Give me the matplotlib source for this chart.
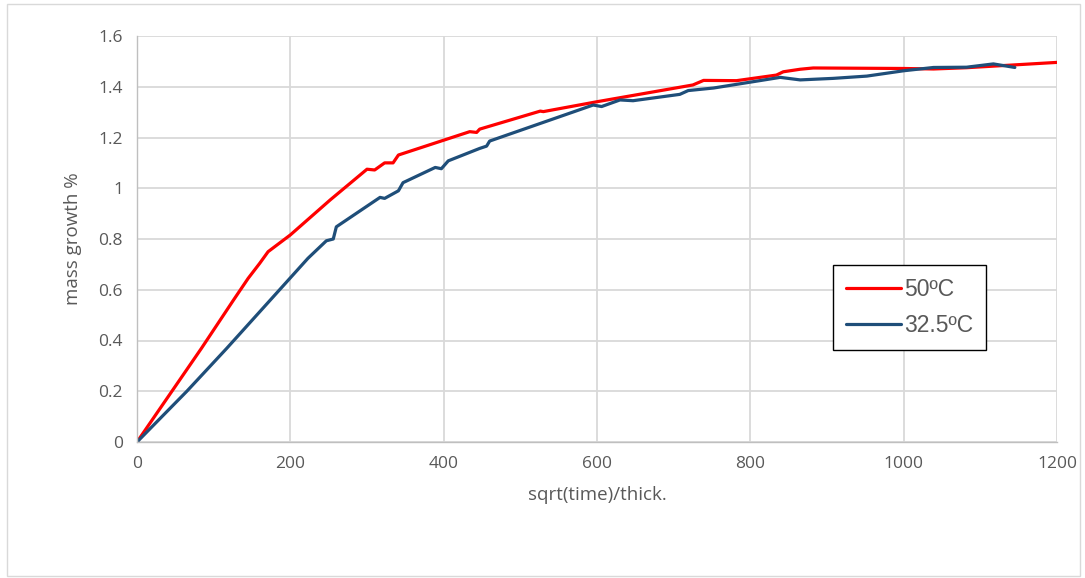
import matplotlib
matplotlib.use("Agg")
import matplotlib.pyplot as plt
from matplotlib.patches import Rectangle

# Data
x_50 = [0, 84, 126, 145, 160, 171, 200, 252, 300, 310, 323, 334, 341, 434, 443, 447,
        526, 530, 600, 725, 739, 782, 834, 843, 865, 882, 1000, 1039, 1082, 1200]
y_50 = [0, 0.369, 0.56, 0.645, 0.704, 0.75, 0.816, 0.954, 1.075, 1.072, 1.10, 1.10,
        1.131, 1.223, 1.22, 1.233, 1.304, 1.302, 1.341, 1.407, 1.425, 1.424, 1.446, 1.459,
        1.469, 1.474, 1.472, 1.47, 1.475, 1.496]

x_325 = [0, 65, 117, 186, 223, 247, 256, 260, 317, 323, 341, 347, 389, 397, 406,
         447, 456, 460, 595, 606, 630, 647, 708, 719, 752, 839, 865, 908, 952, 1000,
         1039, 1082, 1117, 1145]
y_325 = [0, 0.20, 0.369, 0.60, 0.724, 0.793, 0.80, 0.848, 0.964, 0.96, 0.99, 1.022,
         1.082, 1.077, 1.108, 1.157, 1.166, 1.186, 1.328, 1.322, 1.348, 1.345, 1.37, 1.385,
         1.395, 1.437, 1.427, 1.433, 1.442, 1.463, 1.476, 1.477, 1.49, 1.476]

x_ticks = [0, 200, 400, 600, 800, 1000, 1200]
y_ticks = [0, 0.2, 0.4, 0.6, 0.8, 1.0, 1.2, 1.4, 1.6]
y_tick_labels = ["0", "0.2", "0.4", "0.6", "0.8", "1", "1.2", "1.4", "1.6"]
labels = ["50ºC", "32.5ºC"]

W, H = 1085, 578
fig = plt.figure(figsize=(W / 100, H / 100), dpi=100)
ax = fig.add_axes([137 / W, 1 - 442 / H, (1057 - 137) / W, (442 - 36) / H])

# outer chart border
fig.patches.append(Rectangle((7 / W, 2 / H), (1080 - 7) / W, (574 - 2) / H,
                             transform=fig.transFigure, fill=False,
                             edgecolor="#d9d9d9", linewidth=1.0))

txt = "#595959"
font = ["Open Sans", "DejaVu Sans"]

ax.plot(x_50, y_50, color="#ff0000", lw=2.3, label=labels[0],
        solid_joinstyle="round", solid_capstyle="round")
ax.plot(x_325, y_325, color="#1F4E79", lw=2.3, label=labels[1],
        solid_joinstyle="round", solid_capstyle="round")

ax.set_xlim(0, 1200)
ax.set_ylim(0, 1.6)
ax.set_xticks(x_ticks)
ax.set_yticks(y_ticks)
ax.set_yticklabels(y_tick_labels)
ax.grid(True, color="#d9d9d9", linewidth=1.3)
ax.set_axisbelow(True)
for s in ["top", "right"]:
    ax.spines[s].set_visible(False)
for s in ["left", "bottom"]:
    ax.spines[s].set_color("#bfbfbf")
    ax.spines[s].set_linewidth(1.0)
ax.tick_params(length=0, colors=txt, labelsize=12.5, pad=10)
for lab in ax.get_xticklabels() + ax.get_yticklabels():
    lab.set_family(font)

ax.set_xlabel("sqrt(time)/thick.", color=txt, fontsize=13.5, family=font, labelpad=10)
ax.set_ylabel("mass growth %", color=txt, fontsize=13.5, family=font, labelpad=12)

leg = ax.legend(loc="upper left", bbox_to_anchor=((833 - 137) / 920, (442 - 265) / 406),
                frameon=True, fancybox=False, edgecolor="black", framealpha=1,
                prop={"family": ["Liberation Sans", "DejaVu Sans"], "size": 16.5},
                handlelength=2.4, labelspacing=0.6, borderpad=0.55, handletextpad=0.15,
                borderaxespad=0)
leg.get_frame().set_linewidth(1.0)
for t in leg.get_texts():
    t.set_color(txt)

fig.savefig("out.png", dpi=100)
